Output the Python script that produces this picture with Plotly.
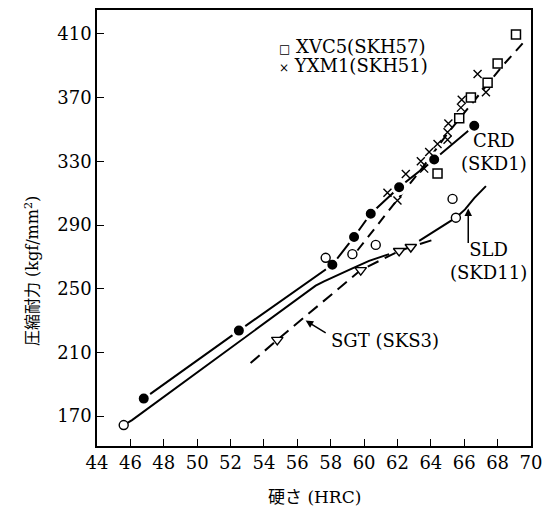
import plotly.graph_objects as go

# ---------------- data ----------------
# CRD (SKD1) - filled circles, solid line
crd_x = [46.8, 52.5, 58.1, 59.4, 60.4, 62.1, 64.2, 66.6]
crd_y = [181.0, 223.7, 265.0, 282.5, 297.1, 313.7, 331.1, 352.3]

# SLD (SKD11) - open circles
sld_x = [45.6, 57.7, 59.3, 60.7, 65.3, 65.5]
sld_y = [164.4, 269.4, 271.7, 277.5, 306.4, 294.6]
# SLD solid curve
sld_curve_x = [45.6, 46.1, 57.1, 57.6, 59.3, 60.3, 61.5, None, 63.3, 65.0, 65.5, 66.05, 66.6, 67.3]
sld_curve_y = [164.4, 167.5, 251.9, 254.6, 262.8, 267.5, 271.7, None, 280.0, 291.4, 294.6, 299.8, 306.9, 314.4]

# SGT (SKS3) - open triangles, dashed curve
sgt_x = [54.8, 59.8, 62.1, 62.8]
sgt_y = [217.9, 261.7, 273.7, 276.2]
sgt_curve_x = [53.2, 54.8, 59.8, 62.1, 62.8, 64.05]
sgt_curve_y = [203.3, 217.9, 261.7, 273.7, 276.2, 280.4]

# XVC5 (SKH57) - open squares
xvc5_x = [69.1, 68.0, 67.4, 66.4, 65.7, 64.4]
xvc5_y = [409.6, 391.4, 379.4, 370.0, 357.1, 322.3]

# YXM1 (SKH51) - crosses
yxm1_x = [61.4, 62.0, 62.5, 63.4, 63.6, 63.9, 64.4, 65.0, 65.0, 65.05, 65.8, 65.85, 66.8, 67.3]
yxm1_y = [310.2, 305.4, 322.1, 330.0, 325.4, 335.8, 340.8, 343.6, 348.3, 353.7, 363.7, 368.6, 384.8, 373.3]

# dashed curve for the high-speed steels
hss_curve_x = [59.6, 63.5, 65.0, 68.3, 69.5]
hss_curve_y = [274.0, 326.0, 347.5, 390.0, 404.0]

x_ticks = [44, 46, 48, 50, 52, 54, 56, 58, 60, 62, 64, 66, 68, 70]
y_ticks = [170, 210, 250, 290, 330, 370, 410]

LATIN = "DejaVu Serif"
SERIF = "DejaVu Serif, Noto Sans CJK JP"
BLACK = "black"

fig = go.Figure()

# ---- lines ----
fig.add_trace(go.Scatter(x=sld_curve_x, y=sld_curve_y, mode="lines",
                         line=dict(color=BLACK, width=2), showlegend=False,
                         connectgaps=False, hoverinfo="skip"))
fig.add_trace(go.Scatter(x=sgt_curve_x, y=sgt_curve_y, mode="lines",
                         line=dict(color=BLACK, width=2, dash="12px,7px"),
                         showlegend=False, hoverinfo="skip"))
fig.add_trace(go.Scatter(x=hss_curve_x, y=hss_curve_y, mode="lines",
                         line=dict(color=BLACK, width=2, dash="10px,7px"),
                         showlegend=False, hoverinfo="skip"))
fig.add_trace(go.Scatter(x=crd_x, y=crd_y, mode="lines",
                         line=dict(color=BLACK, width=2), showlegend=False,
                         hoverinfo="skip"))

# ---- markers ----
fig.add_trace(go.Scatter(x=crd_x, y=crd_y, mode="markers", showlegend=False,
                         marker=dict(symbol="circle", size=13, color=BLACK,
                                     line=dict(color="white", width=3))))
fig.add_trace(go.Scatter(x=sld_x, y=sld_y, mode="markers", showlegend=False,
                         marker=dict(symbol="circle", size=9, color="white",
                                     line=dict(color=BLACK, width=1.4))))
fig.add_trace(go.Scatter(x=sgt_x, y=sgt_y, mode="markers", showlegend=False,
                         marker=dict(symbol="triangle-down", size=10, color="white",
                                     line=dict(color=BLACK, width=1.4))))
fig.add_trace(go.Scatter(x=xvc5_x, y=xvc5_y, mode="markers", showlegend=False,
                         marker=dict(symbol="square", size=9, color="white",
                                     line=dict(color=BLACK, width=1.5))))
fig.add_trace(go.Scatter(x=yxm1_x, y=yxm1_y, mode="markers", showlegend=False,
                         marker=dict(symbol="x-thin", size=8, color=BLACK,
                                     line=dict(color=BLACK, width=1.4))))

annotations = [
    # legend
    dict(x=54.8, y=401.9, xref="x", yref="y", xanchor="left", yanchor="middle",
         text="<span style='font-size:12px'>□</span> XVC5(SKH57)", showarrow=False,
         font=dict(family=LATIN, size=18, color=BLACK)),
    dict(x=54.8, y=390.4, xref="x", yref="y", xanchor="left", yanchor="middle",
         text="<span style='font-size:12px'>×</span> YXM1(SKH51)", showarrow=False,
         font=dict(family=LATIN, size=18, color=BLACK)),
    # series labels
    dict(x=67.8, y=335.6, xref="x", yref="y", xanchor="center", yanchor="middle",
         text="CRD<br>(SKD1)", showarrow=False,
         font=dict(family=LATIN, size=18, color=BLACK)),
    dict(x=67.45, y=267.2, xref="x", yref="y", xanchor="center", yanchor="middle",
         text="SLD<br>(SKD11)", showarrow=False,
         font=dict(family=LATIN, size=18, color=BLACK)),
    dict(x=57.9, y=217.5, xref="x", yref="y", xanchor="left", yanchor="middle",
         text="SGT (SKS3)", showarrow=False,
         font=dict(family=LATIN, size=18, color=BLACK)),
    # arrows
    dict(x=66.24, y=300.3, ax=66.24, ay=277.8, xref="x", yref="y", axref="x", ayref="y",
         text="", showarrow=True, arrowhead=2, arrowsize=1, arrowwidth=1.5,
         arrowcolor=BLACK),
    dict(x=56.5, y=230.0, ax=57.79, ay=221.7, xref="x", yref="y", axref="x", ayref="y",
         text="", showarrow=True, arrowhead=2, arrowsize=1, arrowwidth=1.5,
         arrowcolor=BLACK),
    # axis titles
    dict(x=-0.149, y=0.402, xref="paper", yref="paper", xanchor="center", yanchor="middle",
         text="圧縮耐力 (kgf/mm<sup>2</sup>)", textangle=-90, showarrow=False,
         font=dict(family=SERIF, size=16, color=BLACK)),
    dict(x=0.5, y=-0.116, xref="paper", yref="paper", xanchor="center", yanchor="middle",
         text="硬さ (HRC)", showarrow=False,
         font=dict(family=SERIF, size=17, color=BLACK)),
]

axis_common = dict(showline=True, linecolor=BLACK, linewidth=1.5, mirror=True,
                   ticks="inside", ticklen=7, tickwidth=1.3, tickcolor=BLACK,
                   showgrid=False, zeroline=False,
                   tickfont=dict(family=LATIN, size=18, color=BLACK))

fig.update_layout(
    width=550, height=508,
    margin=dict(l=97, r=17, t=8, b=62),
    paper_bgcolor="white", plot_bgcolor="white",
    showlegend=False,
    xaxis=dict(range=[44, 70], tickvals=x_ticks, ticktext=[str(v) for v in x_ticks],
               **axis_common),
    yaxis=dict(range=[151.25, 425], tickvals=y_ticks, ticktext=[str(v) for v in y_ticks],
               **axis_common),
    annotations=annotations,
)

fig.write_html("out.html")
